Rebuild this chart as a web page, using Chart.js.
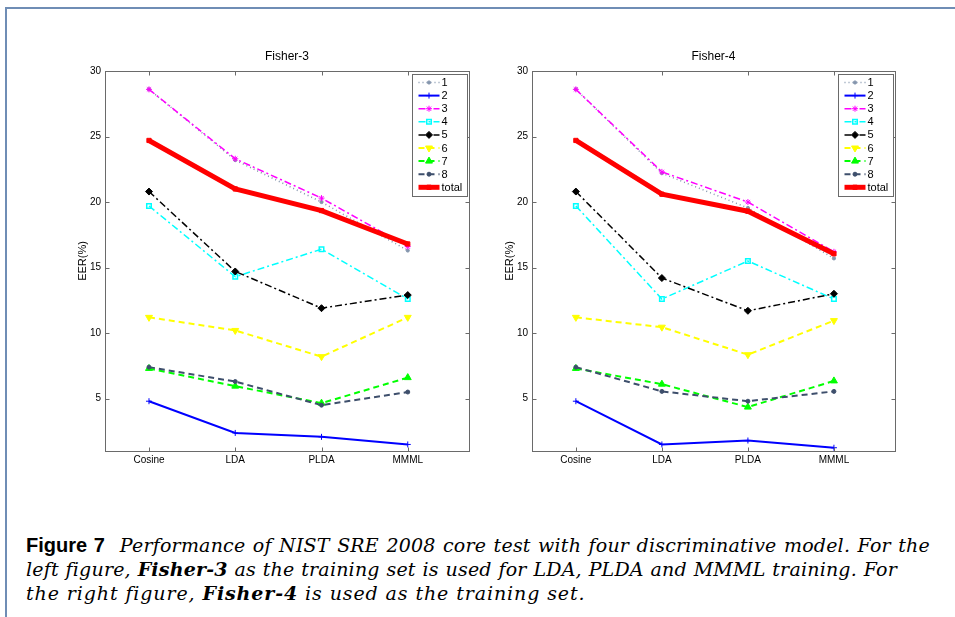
<!DOCTYPE html>
<html>
<head>
<meta charset="utf-8">
<script src="https://cdn.jsdelivr.net/npm/chart.js@4.4.1/dist/chart.umd.min.js"></script>
<style>
  body { margin: 0; background: #fff; width: 955px; height: 617px; overflow: hidden; position: relative; }
  .frame { position: absolute; left: 5px; top: 7px; right: -10px; bottom: -10px;
           border-top: 2px solid #6f8db5; border-left: 2px solid #6f8db5; }
  canvas { position: absolute; top: 0; }
  #chartLeft { left: 0; }
  #chartRight { left: 480px; }
  .caption { position: absolute; left: 26px; top: 533px; font-family: "DejaVu Serif", serif;
             font-style: italic; font-size: 19px; line-height: 24px; color: #000;
             letter-spacing: 0.2px; }
  .caption div { white-space: nowrap; }
  .caption .just { text-align: justify; text-align-last: justify; }
  .caption .last { letter-spacing: 0.9px; }
  .caption b { font-weight: bold; }
  .fig { font-family: "Liberation Sans", Arial, sans-serif; font-style: normal; font-weight: bold;
         font-size: 20px; letter-spacing: 0; }
</style>
</head>
<body>
<div class="frame"></div>
<canvas id="chartLeft" width="480" height="480"></canvas>
<canvas id="chartRight" width="475" height="480"></canvas>
<div class="caption">
  <div class="just" style="width:904px"><span class="fig">Figure 7</span>&nbsp; Performance of NIST SRE 2008 core test with four discriminative model. For the</div>
  <div class="just" style="width:871px">left figure, <b>Fisher-3</b> as the training set is used for LDA, PLDA and MMML training. For</div>
  <div class="last">the right figure, <b>Fisher-4</b> is used as the training set.</div>
</div>

<script>
// x categories, legend names and y tick values
const methods = ['Cosine', 'LDA', 'PLDA', 'MMML'];
const seriesNames = ['1', '2', '3', '4', '5', '6', '7', '8', 'total'];
const yTicks = [5, 10, 15, 20, 25, 30];

// EER(%) trained on Fisher-3
const f3Set1 = [28.6, 23.2, 20.0, 16.3];
const f3Set2 = [4.8, 2.38, 2.08, 1.5];
const f3Set3 = [28.6, 23.3, 20.3, 16.6];
const f3Set4 = [19.7, 14.3, 16.4, 12.6];
const f3Set5 = [20.8, 14.7, 11.9, 12.9];
const f3Set6 = [11.2, 10.2, 8.2, 11.2];
const f3Set7 = [7.3, 5.95, 4.65, 6.6];
const f3Set8 = [7.4, 6.3, 4.5, 5.5];
const f3Total = [24.7, 21.0, 19.35, 16.8];

// EER(%) trained on Fisher-4
const f4Set1 = [28.6, 22.2, 19.55, 15.7];
const f4Set2 = [4.8, 1.5, 1.8, 1.25];
const f4Set3 = [28.6, 22.3, 20.0, 16.2];
const f4Set4 = [19.7, 12.6, 15.5, 12.6];
const f4Set5 = [20.8, 14.2, 11.7, 13.0];
const f4Set6 = [11.2, 10.45, 8.35, 10.95];
const f4Set7 = [7.3, 6.1, 4.35, 6.35];
const f4Set8 = [7.4, 5.55, 4.8, 5.55];
const f4Total = [24.7, 20.6, 19.3, 16.05];

// matlab-ish line specs, one per series
const styles = [
    { color: '#8495ad', dash: [1, 3], width: 1.5, point: 'circle', radius: 1.6 },
    { color: '#0000ff', dash: [], width: 2, point: 'cross', radius: 3 },
    { color: '#ff00ff', dash: [7, 3, 2, 3], width: 1.5, point: 'star', radius: 3 },
    { color: '#00ffff', dash: [7, 3, 2, 3], width: 1.5, point: 'rect', radius: 3.2, hollow: true },
    { color: '#000000', dash: [7, 3, 2, 3], width: 1.5, point: 'rectRot', radius: 3.5 },
    { color: '#ffff00', dash: [6, 4], width: 2, point: 'triangle', radius: 4, rotation: 180 },
    { color: '#00ff00', dash: [6, 4], width: 2, point: 'triangle', radius: 4 },
    { color: '#3e4f6c', dash: [6, 4], width: 2, point: 'circle', radius: 2 },
    { color: '#ff0000', dash: [], width: 5, point: 'rect', radius: 3 }
];

const axisFont = '"Liberation Sans", Arial, sans-serif';

function makeDatasets(all) {
    return all.map((vals, i) => {
        const s = styles[i];
        return {
            label: seriesNames[i],
            data: vals.map((v, j) => ({ x: j + 1, y: v })),
            borderColor: s.color,
            backgroundColor: s.hollow ? 'rgba(0,0,0,0)' : s.color,
            borderWidth: s.width,
            borderDash: s.dash,
            pointStyle: s.point,
            pointRadius: s.radius,
            pointRotation: s.rotation || 0,
            pointBorderWidth: s.hollow ? 1.5 : 1,
            pointBackgroundColor: s.hollow ? 'rgba(0,0,0,0)' : s.color,
            tension: 0,
            order: seriesNames.length - i   // later series end up on top
        };
    });
}

// box, inward ticks, title and the legend, drawn like a matlab axes
const matlabAxes = {
    id: 'matlabAxes',
    afterDatasetsDraw(chart, args, opts) {
        const { ctx, chartArea: a, scales } = chart;
        ctx.save();
        ctx.strokeStyle = '#6a6a6a';
        ctx.lineWidth = 1;
        ctx.setLineDash([]);
        const L = Math.round(a.left) + 0.5, R = Math.round(a.right) + 0.5;
        const T = Math.round(a.top) + 0.5, B = Math.round(a.bottom) + 0.5;
        ctx.strokeRect(L, T, R - L, B - T);
        ctx.beginPath();
        yTicks.forEach(v => {
            const py = Math.round(scales.y.getPixelForValue(v)) + 0.5;
            ctx.moveTo(L, py); ctx.lineTo(L + 4, py);
            ctx.moveTo(R, py); ctx.lineTo(R - 4, py);
        });
        methods.forEach((m, j) => {
            const px = Math.round(scales.x.getPixelForValue(j + 1)) + 0.5;
            ctx.moveTo(px, B); ctx.lineTo(px, B - 4);
            ctx.moveTo(px, T); ctx.lineTo(px, T + 4);
        });
        ctx.stroke();

        // title
        ctx.fillStyle = '#000';
        ctx.font = '12px ' + axisFont;
        ctx.textAlign = 'center';
        ctx.textBaseline = 'middle';
        ctx.fillText(opts.title, (a.left + a.right) / 2, a.top - 14);

        // legend
        const bw = 55, bh = 122;
        const bx = Math.round(a.right) - 2 - bw + 0.5, by = Math.round(a.top) + 3 + 0.5;
        ctx.fillStyle = '#fff';
        ctx.fillRect(bx, by, bw, bh);
        ctx.strokeStyle = '#6a6a6a';
        ctx.strokeRect(bx, by, bw, bh);
        chart.data.datasets.forEach((ds, i) => {
            const cy = by + 8 + i * 13.1;
            ctx.save();
            ctx.strokeStyle = ds.borderColor;
            ctx.lineWidth = ds.borderWidth;
            ctx.setLineDash(ds.borderDash);
            ctx.beginPath();
            ctx.moveTo(bx + 6, cy);
            ctx.lineTo(bx + 27, cy);
            ctx.stroke();
            ctx.setLineDash([]);
            ctx.lineWidth = ds.pointBorderWidth;
            ctx.fillStyle = ds.pointBackgroundColor;
            Chart.helpers.drawPoint(ctx, {
                pointStyle: ds.pointStyle,
                radius: ds.pointRadius,
                rotation: ds.pointRotation,
                borderWidth: ds.pointBorderWidth
            }, bx + 16.5, cy);
            ctx.restore();
            ctx.fillStyle = '#000';
            ctx.font = '11px ' + axisFont;
            ctx.textAlign = 'left';
            ctx.fillText(ds.label, bx + 29, cy + 0.5);
        });
        ctx.restore();
    }
};

function drawPanel(canvasId, title, series, padLeft, padRight) {
    const canvas = document.getElementById(canvasId);
    if (!canvas) {
        console.error('Canvas ' + canvasId + ' not found.');
        return;
    }
    new Chart(canvas.getContext('2d'), {
        type: 'line',
        data: { datasets: makeDatasets(series) },
        plugins: [matlabAxes],
        options: {
            responsive: false,
            animation: false,
            layout: { padding: { left: padLeft, right: padRight, top: 71, bottom: 5 } },
            scales: {
                x: {
                    type: 'linear',
                    min: 0.49,
                    max: 4.71,
                    grid: { display: false, drawTicks: false },
                    border: { display: false },
                    afterBuildTicks: s => { s.ticks = methods.map((m, j) => ({ value: j + 1 })); },
                    afterFit: s => { s.height = 24; },
                    ticks: {
                        padding: 3,
                        color: '#000',
                        maxRotation: 0,
                        font: { family: axisFont, size: 10 },
                        callback: v => methods[v - 1]
                    }
                },
                y: {
                    min: 1,
                    max: 30,
                    grid: { display: false, drawTicks: false },
                    border: { display: false },
                    afterBuildTicks: s => { s.ticks = yTicks.map(v => ({ value: v })); },
                    afterFit: s => { s.width = 37; },
                    title: {
                        display: true,
                        text: 'EER(%)',
                        color: '#000',
                        padding: { top: 8, bottom: 0 },
                        font: { family: axisFont, size: 11 }
                    },
                    ticks: {
                        padding: 4,
                        color: '#000',
                        font: { family: axisFont, size: 10 }
                    }
                }
            },
            plugins: {
                legend: { display: false },
                tooltip: { enabled: false },
                matlabAxes: { title: title }
            }
        }
    });
}

drawPanel('chartLeft', 'Fisher-3',
    [f3Set1, f3Set2, f3Set3, f3Set4, f3Set5, f3Set6, f3Set7, f3Set8, f3Total], 68, 11);
drawPanel('chartRight', 'Fisher-4',
    [f4Set1, f4Set2, f4Set3, f4Set4, f4Set5, f4Set6, f4Set7, f4Set8, f4Total], 15, 60);
</script>
</body>
</html>
